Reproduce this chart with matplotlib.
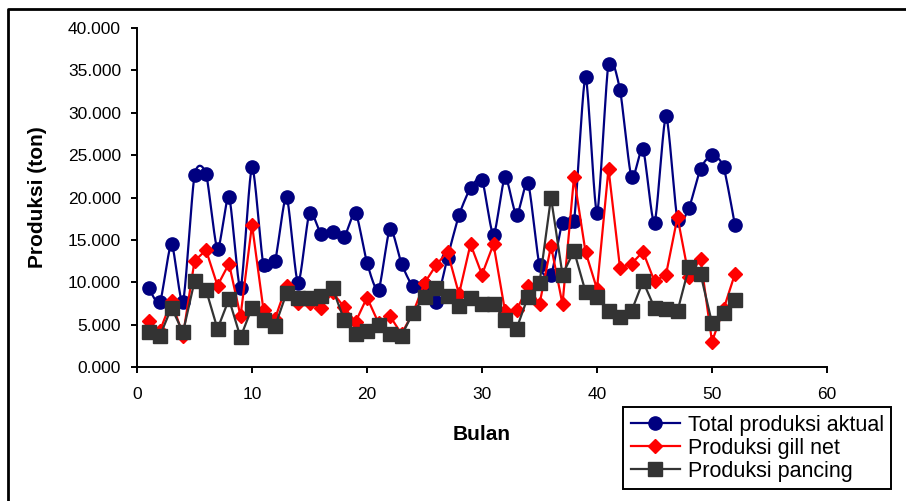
import numpy as np
import matplotlib.pyplot as plt
from matplotlib.lines import Line2D
from matplotlib.ticker import FuncFormatter

plt.rcParams['font.family'] = ['Liberation Sans', 'DejaVu Sans']

bulan = list(range(1, 53))

total = [9.3, 7.7, 14.5, 7.7, 22.6, 22.8, 13.9, 20.1, 9.3, 23.6,
         12.0, 12.5, 20.1, 9.9, 18.2, 15.7, 15.9, 15.3, 18.2, 12.3,
         9.1, 16.3, 12.2, 9.5, 9.7, 7.7, 12.9, 17.9, 21.1, 22.1,
         15.6, 22.4, 17.9, 21.7, 12.0, 10.9, 17.0, 17.2, 34.2, 18.2,
         35.8, 32.7, 22.4, 25.7, 17.0, 29.6, 17.4, 18.8, 23.4, 25.0,
         23.6, 16.7]

gill_net = [5.4, 4.3, 7.8, 3.7, 12.5, 13.8, 9.6, 12.2, 6.0, 16.8,
            6.7, 5.7, 9.6, 7.6, 7.6, 7.0, 8.8, 7.1, 5.3, 8.2,
            5.2, 6.0, 3.9, 6.4, 9.9, 12.0, 13.6, 8.6, 14.5, 10.9,
            14.5, 6.6, 6.7, 9.5, 7.4, 14.3, 7.4, 22.4, 13.6, 9.2,
            23.4, 11.7, 12.2, 13.6, 10.1, 10.9, 17.7, 10.6, 12.8, 3.0,
            6.8, 11.0]

pancing = [4.1, 3.7, 7.0, 4.1, 10.1, 9.1, 4.5, 8.0, 3.5, 7.0,
           5.6, 4.8, 8.7, 8.1, 8.1, 8.4, 9.3, 5.6, 3.9, 4.3,
           5.0, 3.9, 3.7, 6.4, 8.3, 9.3, 8.4, 7.2, 8.1, 7.4,
           7.4, 5.6, 4.5, 8.3, 9.9, 20.0, 10.9, 13.7, 8.9, 8.3,
           6.6, 5.9, 6.6, 10.1, 7.0, 6.8, 6.6, 11.8, 11.0, 5.2,
           6.4, 7.9]

# values in ton (read as thousands)
total = [v * 1000 for v in total]
gill_net = [v * 1000 for v in gill_net]
pancing = [v * 1000 for v in pancing]


def smooth(x, y, n=20, s=0.7):
    # cardinal spline through the points, like excel "smoothed line"
    x = np.asarray(x, float)
    y = np.asarray(y, float)
    px = np.concatenate([[x[0]], x, [x[-1]]])
    py = np.concatenate([[y[0]], y, [y[-1]]])
    t = np.linspace(0, 1, n)
    h00 = 2 * t ** 3 - 3 * t ** 2 + 1
    h10 = t ** 3 - 2 * t ** 2 + t
    h01 = -2 * t ** 3 + 3 * t ** 2
    h11 = t ** 3 - t ** 2
    xs, ys = [], []
    for i in range(1, len(px) - 2):
        for p, out in ((px, xs), (py, ys)):
            m1 = s * (p[i + 1] - p[i - 1]) / 2
            m2 = s * (p[i + 2] - p[i]) / 2
            out.extend(h00 * p[i] + h10 * m1 + h01 * p[i + 1] + h11 * m2)
    return xs, ys


W, H = 906, 501
fig = plt.figure(figsize=(W / 100, H / 100), dpi=100)
ax = fig.add_axes([137 / W, 1 - 367 / H, 690 / W, 339 / H])

blue, red, dark = '#000080', '#FF0000', '#333333'

sx, sy = smooth(bulan, total)
ax.plot(sx, sy, '-', color=blue, lw=1.6)
ax.plot(bulan, total, 'o', color=blue, ms=9.5)
ax.plot(bulan, gill_net, '-D', color=red, lw=1.6, ms=7)
ax.plot(bulan, pancing, '-s', color=dark, lw=1.6, ms=9.5)

ax.set_xlim(0, 60)
ax.set_ylim(0, 40000)
ax.set_xticks(range(0, 61, 10))
ax.set_yticks(range(0, 40001, 5000))
ax.yaxis.set_major_formatter(FuncFormatter(lambda v, p: '%d.000' % (v / 1000)))
ax.spines['top'].set_visible(False)
ax.spines['right'].set_visible(False)
ax.spines['left'].set_linewidth(1.4)
ax.spines['bottom'].set_linewidth(1.4)
ax.tick_params(direction='out', length=4.5, width=1.4, labelsize=12.5)
ax.tick_params(axis='x', pad=10)
ax.tick_params(axis='y', pad=7)

ax.set_ylabel('Produksi (ton)', fontsize=15, fontweight='bold')
ax.set_xlabel('Bulan', fontsize=15, fontweight='bold')
ax.yaxis.set_label_coords(-0.13, 0.5)
ax.xaxis.set_label_coords(0.5, -0.172)

h1 = Line2D([], [], color=blue, marker='o', lw=1.6, ms=9.5)
h2 = Line2D([], [], color=red, marker='D', lw=1.6, ms=7)
h3 = Line2D([], [], color=dark, marker='s', lw=1.6, ms=9.5)
leg = fig.legend([h1, h2, h3], ['Total produksi aktual', 'Produksi gill net', 'Produksi pancing'],
                 loc='upper left', bbox_to_anchor=(623 / W, 1 - 407 / H), fontsize=15.5,
                 fancybox=False, edgecolor='black', framealpha=1,
                 borderaxespad=0, handlelength=2.3, handletextpad=0.35,
                 labelspacing=0.1, borderpad=0.35)
leg.get_frame().set_linewidth(1.4)

# outer frame of the chart (top and left edges visible)
fig.add_artist(Line2D([8 / W, 8 / W, 1], [0, 1 - 9 / H, 1 - 9 / H],
                      transform=fig.transFigure, color='black', lw=2))

fig.savefig('out.png', dpi=100)
